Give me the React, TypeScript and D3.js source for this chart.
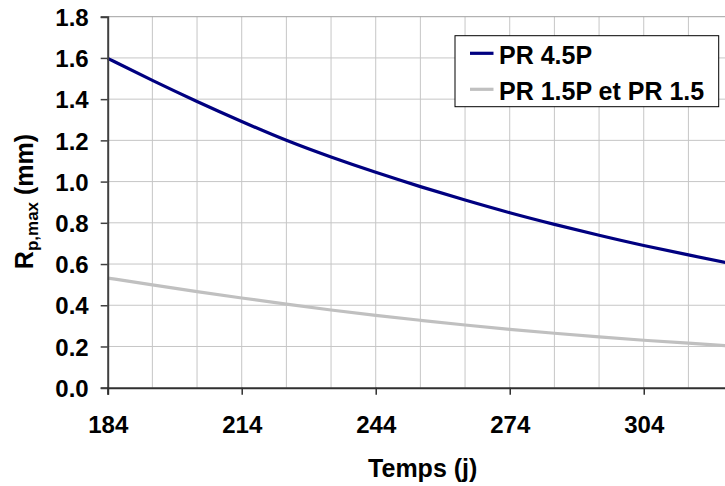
import React, { useEffect, useRef } from 'react';
import * as d3 from 'd3';

const days = [184, 194, 204, 214, 224, 234, 244, 254, 264, 274, 284, 294, 304, 314, 324];
const pr45P = [1.598, 1.49, 1.388, 1.291, 1.198, 1.118, 1.044, 0.975, 0.91, 0.848, 0.792, 0.739, 0.689, 0.644, 0.6];
const pr15 = [0.532, 0.499, 0.466, 0.435, 0.405, 0.377, 0.35, 0.327, 0.304, 0.283, 0.264, 0.246, 0.23, 0.216, 0.202];
const xTicks = [184, 214, 244, 274, 304];
const xGrid = [194, 204, 214, 224, 234, 244, 254, 264, 274, 284, 294, 304, 314, 324];
const yTicks = [0, 0.2, 0.4, 0.6, 0.8, 1.0, 1.2, 1.4, 1.6, 1.8];
const seriesNames = ['PR 4.5P', 'PR 1.5P et PR 1.5'];
const seriesColors = ['#000080', '#c0c0c0'];

const W = 725;
const H = 486;
const FONT = '"Liberation Sans", Arial, sans-serif';

const App: React.FC = () => {
  const svgRef = useRef<SVGSVGElement>(null);

  useEffect(() => {
    if (!svgRef.current) return;
    const svg = d3.select(svgRef.current);
    svg.selectAll('*').remove();

    const left = 107.7;
    const top = 16.7;
    const bottom = 387.7;

    const x = d3.scaleLinear().domain([184, 325]).range([left, left + 141 * 4.467]);
    const y = d3.scaleLinear().domain([0, 1.8]).range([bottom, top]);
    const right = x(325);

    const g = svg.append('g');

    // grid
    g.append('g')
      .selectAll('line')
      .data(xGrid)
      .join('line')
      .attr('x1', d => x(d)).attr('x2', d => x(d))
      .attr('y1', top).attr('y2', bottom)
      .attr('stroke', '#c6c6c6').attr('stroke-width', 1);

    g.append('g')
      .selectAll('line')
      .data(yTicks.slice(1))
      .join('line')
      .attr('x1', left).attr('x2', right)
      .attr('y1', d => y(d)).attr('y2', d => y(d))
      .attr('stroke', d => (d === 1.8 ? '#a0a0a0' : '#c6c6c6')).attr('stroke-width', 1);

    // series
    const line = d3.line<number>()
      .x((_, i) => x(days[i]))
      .y(d => y(d))
      .curve(d3.curveBasis);

    g.append('path')
      .attr('d', line(pr15) || '')
      .attr('fill', 'none')
      .attr('stroke', seriesColors[1])
      .attr('stroke-width', 3.2);
    g.append('path')
      .attr('d', line(pr45P) || '')
      .attr('fill', 'none')
      .attr('stroke', seriesColors[0])
      .attr('stroke-width', 3.2);

    // axes
    const yAxis = g.append('g')
      .attr('transform', `translate(${left},0)`)
      .call(d3.axisLeft(y).tickValues(yTicks).tickSize(7).tickPadding(12).tickFormat(d3.format('.1f')));
    yAxis.select('.domain').attr('stroke', '#404040').attr('stroke-width', 2);
    yAxis.selectAll('.tick line').attr('stroke', '#404040').attr('stroke-width', 1.5);
    yAxis.selectAll('.tick text')
      .attr('font-family', FONT).attr('font-size', 24).attr('font-weight', 'bold')
      .attr('fill', '#000').attr('dy', '0.36em');

    const xAxis = g.append('g')
      .attr('transform', `translate(0,${bottom})`)
      .call(d3.axisBottom(x).tickValues(xTicks).tickSize(7).tickPadding(21).tickFormat(d3.format('d')));
    xAxis.select('.domain').attr('stroke', '#303030').attr('stroke-width', 2);
    xAxis.selectAll('.tick line').attr('stroke', '#303030').attr('stroke-width', 1.5);
    xAxis.selectAll('.tick text')
      .attr('font-family', FONT).attr('font-size', 24).attr('font-weight', 'bold')
      .attr('fill', '#000');

    // axis titles
    svg.append('text')
      .attr('x', 422.7).attr('y', 476.7)
      .attr('text-anchor', 'middle')
      .attr('font-family', FONT).attr('font-size', 25).attr('font-weight', 'bold')
      .text('Temps (j)');

    const yt = svg.append('text')
      .attr('transform', 'translate(33,201.5) rotate(-90)')
      .attr('text-anchor', 'middle')
      .attr('font-family', FONT).attr('font-size', 25).attr('font-weight', 'bold');
    yt.append('tspan').text('R');
    yt.append('tspan').attr('font-size', 17).attr('dy', 5).text('p,max');
    yt.append('tspan').attr('dy', -5).text(' (mm)');

    // legend
    const lg = svg.append('g');
    lg.append('rect')
      .attr('x', 455).attr('y', 35.7).attr('width', 263.7).attr('height', 71)
      .attr('fill', '#fff').attr('stroke', '#000').attr('stroke-width', 1);
    seriesNames.forEach((name, i) => {
      const ly = 53.3 + i * 36;
      lg.append('line')
        .attr('x1', 470).attr('x2', 493.5).attr('y1', ly).attr('y2', ly)
        .attr('stroke', seriesColors[i]).attr('stroke-width', 3.2);
      lg.append('text')
        .attr('x', 499).attr('y', ly + 10.7)
        .attr('font-family', FONT).attr('font-size', 25).attr('font-weight', 'bold')
        .text(name);
    });
  }, []);

  return (
    <div style={{ position: 'absolute', left: 0, top: 0, width: W, height: H, background: '#fff' }}>
      <svg ref={svgRef} width={W} height={H} viewBox={`0 0 ${W} ${H}`} style={{ display: 'block' }} />
    </div>
  );
};

export default App;
